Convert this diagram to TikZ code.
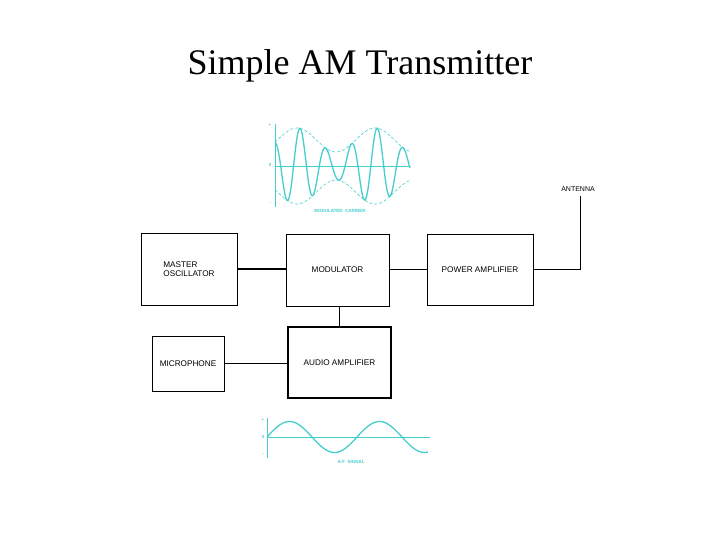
\documentclass[tikz,border=0pt]{standalone}
\usepackage{fontspec}
\setmainfont{Liberation Serif}
\newfontfamily\boxfont{Liberation Sans}
\definecolor{wave}{RGB}{70,205,205}
\begin{document}
\begin{tikzpicture}[x=1pt,y=-1pt,
  blk/.style={draw=black, line width=1pt, rectangle, inner sep=0pt, font=\boxfont\fontsize{8.2}{9.5}\selectfont, align=left},
  conn/.style={draw=black, line width=1pt},
  wv/.style={draw=wave, line width=1.3pt},
  env/.style={draw=wave, line width=0.6pt, dash pattern=on 3pt off 2pt},
  ax/.style={draw=wave, line width=0.6pt},
  tiny/.style={text=wave, font=\boxfont\fontsize{4.5}{5}\selectfont, inner sep=0pt}]
\useasboundingbox (0,0) rectangle (720,540);
\fill[white] (0,0) rectangle (720,540);

\node[font=\fontsize{36}{40}\selectfont, anchor=base] (title) at (360,75) {Simple AM Transmitter};

% blocks
\node[blk, minimum width=96pt, minimum height=72pt] (mo) at (189,269) {MASTER\\OSCILLATOR};
\node[blk, minimum width=103pt, minimum height=72pt] (mod) at (337.5,270) {MODULATOR};
\node[blk, minimum width=106pt, minimum height=71pt] (pa) at (480,269.5) {POWER AMPLIFIER};
\node[blk, minimum width=72pt, minimum height=55pt] (mic) at (188,363.5) {MICROPHONE};
\node[blk, line width=1.8pt, minimum width=103pt, minimum height=71pt] (aud) at (339.5,362.5) {AUDIO AMPLIFIER};
\draw[line width=1.3pt] (pa.north east) -- (pa.south east);

% connectors
\draw[conn, line width=2pt] (mo.east) -- (mo.east -| mod.west);
\draw[conn] (mod.east |- pa.west) -- (pa.west);
\coordinate (ant) at (580,196);
\node[font=\boxfont\fontsize{7}{8}\selectfont, inner sep=0pt] (antl) at (578,189.5) {ANTENNA};
\draw[conn] (pa.east) -| (ant);
\draw[conn] (aud.north) -- (aud.north |- mod.south);
\draw[conn] (mic.east) -- (mic.east -| aud.west);

% modulated carrier
\coordinate (mo0) at (275,166);
\coordinate (mtop) at (275,124);
\coordinate (mbot) at (275,207);
\coordinate (mend) at (410,166);
\draw[ax] (mtop) -- (mbot);
\draw[ax] (mo0) -- (mend);
\node[tiny, text=wave!80!black] (mp) at (270,125) {+};
\node[tiny, text=wave!80!black] (mz) at (270,165) {0};
\node[tiny, text=wave!80!black] (mm) at (270,204) {-};
\draw[env] plot[domain=275:410, samples=120, smooth] (\x, {166 - (26+12*cos((\x-297)*4.6154))});
\draw[env] plot[domain=275:410, samples=120, smooth] (\x, {166 + (26+12*cos((\x-297)*4.6154))});
\draw[wv] plot[domain=275:410, samples=400, smooth] (\x, {166 - (26+12*cos((\x-297)*4.6154))*cos((\x-300)*13.981)});
\node[tiny, font=\boxfont\bfseries\fontsize{4.5}{5}\selectfont] (mcl) at (340,210.5) {MODULATED\ \ CARRIER};

% A-F signal
\coordinate (a0) at (267,437);
\coordinate (atop) at (267,418);
\coordinate (abot) at (267,458);
\coordinate (aend) at (430,437);
\draw[ax] (atop) -- (abot);
\draw[ax] (a0) -- (aend);
\node[tiny, text=wave!80!black] (ap) at (263,420) {+};
\node[tiny, text=wave!80!black] (az) at (263,437) {0};
\node[tiny, text=wave!80!black] (am) at (263,455) {-};
\draw[wv] plot[domain=267:428, samples=200, smooth] (\x, {437 - 15.5*sin((\x-267)*4)});
\node[tiny, font=\boxfont\bfseries\fontsize{4.5}{5}\selectfont] (afl) at (351,461.5) {A-F\ \ SIGNAL};
\end{tikzpicture}
\end{document}
